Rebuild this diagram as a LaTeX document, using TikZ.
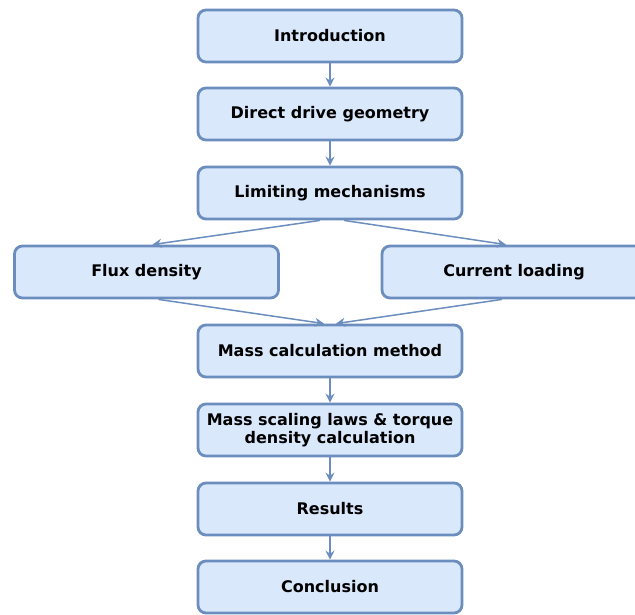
\documentclass[tikz,border=0pt]{standalone}
\usepackage{fontspec}
\setmainfont{DejaVu Sans}
\usepackage{xcolor}
\usepackage{tikz}
\usetikzlibrary{arrows.meta,positioning}
\definecolor{flowfill}{HTML}{DAE8FC}
\definecolor{flowline}{HTML}{6C8EBF}
\tikzset{
  stage/.style={rounded corners=8pt,draw=flowline,fill=flowfill,line width=2.8pt,align=center,
    minimum width=264pt,minimum height=52pt,inner sep=2pt,font=\fontsize{16}{18}\selectfont\bfseries},
  ar/.style={-{Stealth[length=9pt,width=9pt,inset=3pt]},draw=flowline,line width=1.5pt},
}
\begin{document}
\begin{tikzpicture}[x=1pt,y=-1pt]
  \useasboundingbox (0,0) rectangle (635,614);
  \node[stage] (intro) at (330,36) {Introduction};
  \node[stage] (geom) at (330,114) {Direct drive geometry};
  \node[stage] (limit) at (330,193) {Limiting mechanisms};
  \node[stage] (flux) at (146.5,272) {Flux density};
  \node[stage] (curr) at (514,272) {Current loading};
  \node[stage] (mass) at (330,351) {Mass calculation method};
  \node[stage] (scal) at (330,430) {Mass scaling laws \& torque\\density calculation};
  \node[stage] (res) at (330,509) {Results};
  \node[stage] (concl) at (330,587) {Conclusion};
  % main column
  \draw[ar] (intro) -- (geom);
  \draw[ar] (geom) -- (limit);
  \draw[ar] ([xshift=-10pt]limit.south) -- ([xshift=6pt]flux.north);
  \draw[ar] ([xshift=14pt]limit.south) -- ([xshift=-8pt]curr.north);
  \draw[ar] ([xshift=12pt]flux.south) -- ([xshift=-6pt]mass.north);
  \draw[ar] ([xshift=-12pt]curr.south) -- ([xshift=6pt]mass.north);
  \draw[ar] (mass) -- (scal);
  \draw[ar] (scal) -- (res);
  \draw[ar] (res) -- (concl);
\end{tikzpicture}
\end{document}
